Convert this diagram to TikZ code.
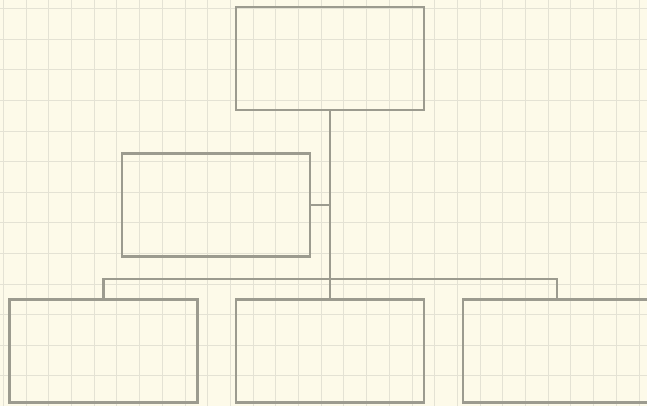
\documentclass[tikz,border=0pt]{standalone}
\definecolor{paper}{HTML}{FDFAE9}
\definecolor{gridc}{HTML}{E4E2D4}
\definecolor{linec}{HTML}{9C9B8F}
\begin{document}
\begin{tikzpicture}[x=1pt,y=-1pt,
  orgbox/.style={draw=linec, line width=2.4pt, minimum width=188pt, minimum height=103pt, inner sep=0pt, rectangle},
  link/.style={draw=linec, line width=2.4pt}]
\useasboundingbox (0,0) rectangle (647,406);
\fill[paper] (0,0) rectangle (647,406);
\begin{scope}
\clip (0,0) rectangle (647,406);
\foreach \i in {0,...,28} {\draw[gridc, line width=1pt] (3.4+22.7*\i,0) -- (3.4+22.7*\i,406);}
\foreach \j in {0,...,13} {\draw[gridc, line width=1pt] (0,8.7+30.6*\j) -- (647,8.7+30.6*\j);}
\node[orgbox] (top) at (330,58.5) {};
\node[orgbox] (mid) at (216,205) {};
\node[orgbox] (bl) at (103.5,351) {};
\node[orgbox] (bm) at (330,351) {};
\node[orgbox] (br) at (557,351) {};
\coordinate (bus) at (330,279);
\draw[link] (top.south) -- (bm.north);
\draw[link] (bl.north) |- (bus) -| (br.north);
\draw[link] (mid.east) -- (mid.east -| top.south);
\end{scope}
\end{tikzpicture}
\end{document}
